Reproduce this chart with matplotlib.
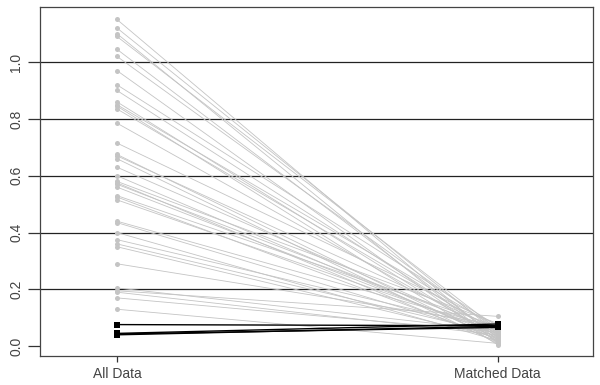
import matplotlib
matplotlib.use("Agg")
import matplotlib.pyplot as plt

plt.rcParams['font.family'] = ['Liberation Sans', 'DejaVu Sans']

groups = ["All Data", "Matched Data"]
yticks = [0.0, 0.2, 0.4, 0.6, 0.8, 1.0]
ytick_labels = ["0.0", "0.2", "0.4", "0.6", "0.8", "1.0"]

# gray series: value on all data -> value on matched data
all_gray = [1.15, 1.12, 1.10, 1.09, 1.045, 1.02, 0.97, 0.92, 0.90, 0.86,
            0.85, 0.845, 0.835, 0.785, 0.715, 0.675, 0.67, 0.66, 0.63, 0.60,
            0.58, 0.575, 0.57, 0.56, 0.53, 0.525, 0.515, 0.44, 0.435, 0.40,
            0.375, 0.36, 0.35, 0.29, 0.205, 0.195, 0.19, 0.17, 0.13]
matched_gray = [0.02, 0.045, 0.01, 0.06, 0.03, 0.055, 0.015, 0.07, 0.04, 0.025,
                0.065, 0.005, 0.05, 0.035, 0.075, 0.02, 0.06, 0.01, 0.045, 0.03,
                0.08, 0.015, 0.055, 0.04, 0.07, 0.025, 0.05, 0.065, 0.035, 0.02,
                0.06, 0.045, 0.03, 0.075, 0.055, 0.105, 0.04, 0.05, 0.01]

# black series
all_black = [0.076, 0.045, 0.043, 0.040]
matched_black = [0.072, 0.078, 0.066, 0.070]

fig = plt.figure(figsize=(6, 3.85), dpi=100)
ax = fig.add_axes([0.0667, 0.075, 0.9213, 0.907])

gray = "#c4c4c4"
for y in yticks[1:]:
    ax.axhline(y, color="#222222", lw=0.9, zorder=1)

for a, m in zip(all_gray, matched_gray):
    ax.plot([1, 2], [a, m], color=gray, lw=0.6, zorder=2)
ax.scatter([1] * len(all_gray), all_gray, s=13, color=gray, zorder=3, linewidths=0)
ax.scatter([2] * len(matched_gray), matched_gray, s=13, color=gray, zorder=3, linewidths=0)

for a, m in zip(all_black, matched_black):
    ax.plot([1, 2], [a, m], color="black", lw=1.0, zorder=4)
ax.scatter([1] * len(all_black), all_black, s=14, color="black", marker="s", zorder=5, linewidths=0)
ax.scatter([2] * len(matched_black), matched_black, s=14, color="black", marker="s", zorder=5, linewidths=0)

ax.set_xlim(0.798, 2.25)
ax.set_ylim(-0.035, 1.194)
ax.set_xticks([1, 2])
ax.set_xticklabels(groups, fontsize=10, color="#444444")
ax.set_yticks(yticks)
ax.set_yticklabels(ytick_labels, fontsize=10, color="#444444", rotation=90, va="center")
ax.tick_params(axis="y", length=9, width=0.9, color="#333333", pad=3)
ax.tick_params(axis="x", length=4, width=0.9, color="#333333", pad=4)
for s in ax.spines.values():
    s.set_color("#444444")
    s.set_linewidth(0.9)

fig.savefig("out.png", dpi=100)
